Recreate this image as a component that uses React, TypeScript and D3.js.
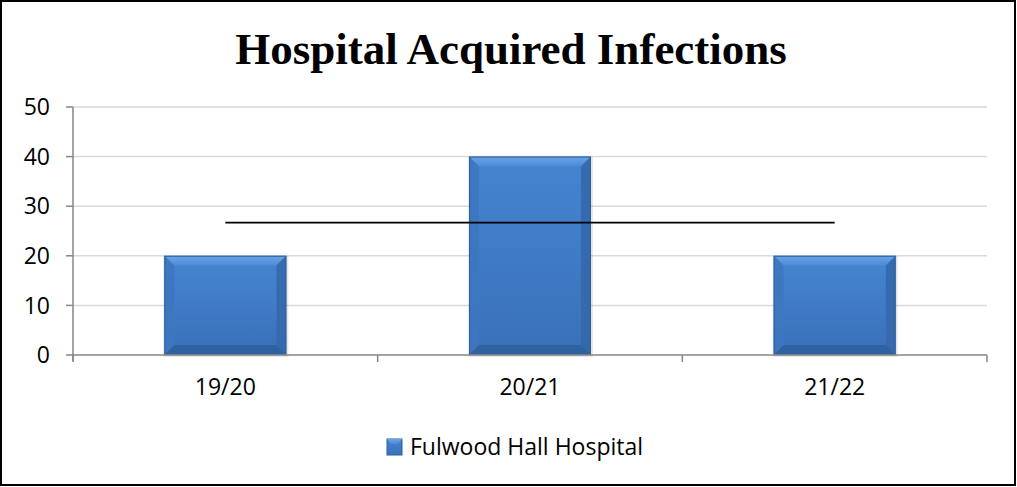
import React from 'react';
import * as d3 from 'd3';

// chart data
const categories = ['19/20', '20/21', '21/22'];
const infections = [20, 40, 20];
const averageLine = [26.7, 26.7, 26.7];
const yTicks = [0, 10, 20, 30, 40, 50];
const seriesName = 'Fulwood Hall Hospital';

const W = 1017;
const H = 487;

const Bar = ({ x, y, w, h }: { x: number; y: number; w: number; h: number }) => {
  const b = Math.min(10, h / 2); // bevel size
  return (
    <g>
      <rect x={x - 1} y={y} width={w + 3} height={h + 2} fill="#000" opacity={0.1} />
      <rect x={x} y={y} width={w} height={h} fill="url(#body)" />
      {/* top bevel */}
      <polygon points={`${x},${y} ${x + w},${y} ${x + w - b},${y + b} ${x + b},${y + b}`} fill="url(#topBevel)" />
      {/* left bevel */}
      <polygon points={`${x},${y} ${x + b},${y + b} ${x + b},${y + h - b} ${x},${y + h}`} fill="#3d77c0" opacity={0.9} />
      {/* right bevel */}
      <polygon points={`${x + w},${y} ${x + w - b},${y + b} ${x + w - b},${y + h - b} ${x + w},${y + h}`} fill="#3568ab" opacity={0.9} />
      {/* bottom bevel */}
      <polygon points={`${x},${y + h} ${x + b},${y + h - b} ${x + w - b},${y + h - b} ${x + w},${y + h}`} fill="#305f9e" opacity={0.9} />
      <rect x={x + b} y={y + b} width={w - 2 * b} height={h - 2 * b} fill="url(#body)" />
      <rect x={x + 0.5} y={y + 0.5} width={w - 1} height={h - 1} fill="none" stroke="#2f5f9c" strokeWidth={1} />
    </g>
  );
};

export default function App() {
  const left = 73;
  const right = 987;
  const top = 107;
  const bottom = 355;

  const x = d3.scaleBand().domain(categories).range([left, right]).paddingInner(0).paddingOuter(0);
  const y = d3.scaleLinear().domain([0, 50]).range([bottom, top]);
  const barW = x.bandwidth() * 0.4;

  const line = d3
    .line<number>()
    .x((_, i) => (x(categories[i]) as number) + x.bandwidth() / 2)
    .y((d) => y(d));

  const labelFont = "'Open Sans', 'Noto Sans', sans-serif";

  return (
    <svg width={W} height={H} style={{ position: 'absolute', left: 0, top: 0 }}>
      <defs>
        <linearGradient id="body" x1="0" y1="0" x2="0" y2="1">
          <stop offset="0" stopColor="#4583d0" />
          <stop offset="1" stopColor="#3a72ba" />
        </linearGradient>
        <linearGradient id="topBevel" x1="0" y1="0" x2="0" y2="1">
          <stop offset="0" stopColor="#6aa4e6" />
          <stop offset="1" stopColor="#4b8ad6" />
        </linearGradient>
      </defs>
      <rect x={1} y={1} width={W - 3} height={H - 3} fill="#fff" stroke="#000" strokeWidth={2} />

      <text
        x={511}
        y={64}
        textAnchor="middle"
        fontFamily="'Liberation Serif', serif"
        fontWeight="bold"
        fontSize={45}
        fill="#000"
      >
        Hospital Acquired Infections
      </text>

      {/* gridlines */}
      {yTicks.filter((t) => t > 0).map((t) => (
        <line key={t} x1={left} x2={right} y1={y(t)} y2={y(t)} stroke="#d9d9d9" strokeWidth={1.5} />
      ))}

      {/* y axis */}
      <line x1={left} x2={left} y1={top} y2={bottom + 6} stroke="#868686" strokeWidth={1.5} />
      {yTicks.map((t) => (
        <g key={t}>
          <line x1={left - 7} x2={left} y1={y(t)} y2={y(t)} stroke="#868686" strokeWidth={1.5} />
          <text x={50} y={y(t)} dy="0.36em" textAnchor="end" fontFamily={labelFont} fontSize={23} fill="#000">
            {t}
          </text>
        </g>
      ))}

      {/* bars */}
      {categories.map((c, i) => {
        const bx = (x(c) as number) + (x.bandwidth() - barW) / 2;
        return <Bar key={c} x={bx} y={y(infections[i])} w={barW} h={y(0) - y(infections[i])} />;
      })}

      {/* x axis */}
      <line x1={left} x2={right} y1={bottom} y2={bottom} stroke="#868686" strokeWidth={1.5} />
      {[...categories.map((c) => x(c) as number), right].map((p, i) => (
        <line key={i} x1={p} x2={p} y1={bottom} y2={bottom + 7} stroke="#868686" strokeWidth={1.5} />
      ))}
      {categories.map((c) => (
        <text
          key={c}
          x={(x(c) as number) + x.bandwidth() / 2}
          y={395}
          textAnchor="middle"
          fontFamily={labelFont}
          fontSize={23}
          fill="#000"
        >
          {c}
        </text>
      ))}

      {/* average line */}
      <path d={line(averageLine) || ''} fill="none" stroke="#000" strokeWidth={1.8} />

      {/* legend */}
      <g>
        <rect x={387} y={439} width={15} height={16} fill="url(#body)" stroke="#2f5f9c" />
        <polygon points="387,439 402,439 398,444 391,444" fill="url(#topBevel)" />
        <text x={410} y={455} fontFamily={labelFont} fontSize={23} fill="#000">
          {seriesName}
        </text>
      </g>
    </svg>
  );
}
